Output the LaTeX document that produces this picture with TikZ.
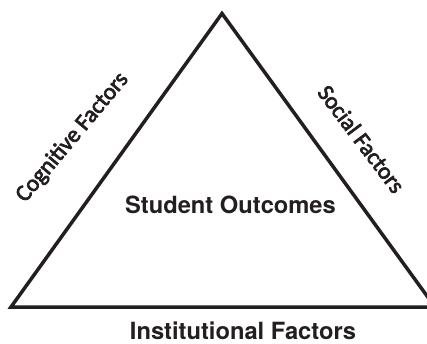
\documentclass[tikz,border=0pt]{standalone}
\usepackage{fontspec}
\setmainfont{TeX Gyre Heros}
\newfontfamily\sidefont[RawFeature={embolden=3}]{Carlito}
\definecolor{ink}{RGB}{35,31,32}
\begin{document}
\begin{tikzpicture}[x=1pt,y=-1pt,
  edge/.style={draw=ink,line width=3.5pt,line join=miter},
  sidelabel/.style={text=ink,inner sep=0pt,font=\sidefont\fontsize{23.3}{26}\selectfont},
  mainlabel/.style={text=ink,inner sep=0pt,anchor=base,font=\bfseries\fontsize{23.7}{27}\selectfont}]
  \useasboundingbox (0,0) rectangle (427,344);
  % corners of the triangle
  \coordinate (top) at (222,13.5);
  \coordinate (left) at (11,307);
  \coordinate (right) at (435,307);
  \draw[edge] (left) -- (top) -- (right) -- cycle;
  % labels
  \node[mainlabel] (center) at (230.5,213.3) {Student Outcomes};
  \node[mainlabel] (base) at (243,339) {Institutional Factors};
  \node[sidelabel,rotate=50] (cog) at (72.5,137.5) {Cognitive Factors};
  \node[sidelabel,rotate=-53] (soc) at (361.5,139) {Social Factors};
\end{tikzpicture}
\end{document}
